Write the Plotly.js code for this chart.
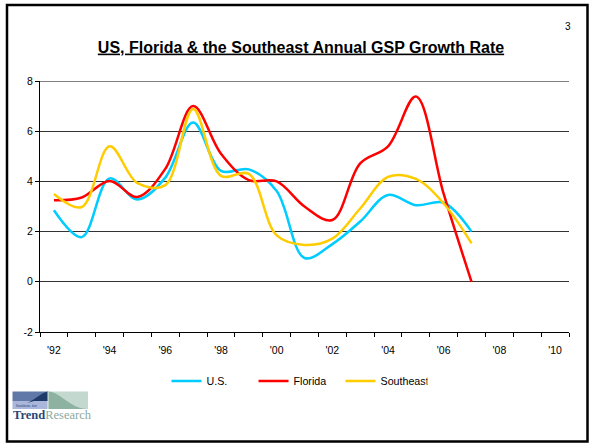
<!DOCTYPE html>
<html>
<head>
<meta charset="utf-8">
<script src="https://cdn.plot.ly/plotly-3.0.1.min.js"></script>
<style>
html,body{margin:0;padding:0;background:#fff;}
#chart{width:592px;height:445px;}
</style>
</head>
<body>
<div id="chart"></div>
<script>
// ---- data ----
const years = [1992,1993,1994,1995,1996,1997,1998,1999,2000,2001,2002,2003,2004,2005,2006,2007];
const usGrowth        = [2.85,1.78,4.12,3.28,4.15,6.35,4.42,4.48,3.62,0.95,1.50,2.40,3.46,3.05,3.15,2.00];
const floridaGrowth   = [3.25,3.36,4.02,3.38,4.50,7.00,5.10,4.05,4.00,3.00,2.46,4.72,5.40,7.38,3.50,0.00];
const southeastGrowth = [3.50,2.98,5.40,3.93,3.85,6.88,4.22,4.30,1.85,1.47,1.72,2.92,4.18,4.10,3.12,1.53];
const tickYears  = [1992,1994,1996,1998,2000,2002,2004,2006,2008,2010];
const tickLabels = ["'92","'94","'96","'98","'00","'02","'04","'06","'08","'10"];
const yTickVals   = [-2,0,2,4,6,8];
const yTickLabels = ['-2','0','2','4','6','8'];
const seriesNames  = ['U.S.','Florida','Southeast'];
const seriesValues = [usGrowth, floridaGrowth, southeastGrowth];
const seriesColors = ['#00CCFF','#FF0000','#FFCC00'];

// ---- geometry helpers ----
const W = 592, H = 445;
const M = {l:40, r:23, t:81, b:113};
const PW = W - M.l - M.r, PH = H - M.t - M.b;
const px = x => (x - M.l) / PW;
const py = y => (H - M.b - y) / PH;
const P = (x, y) => px(x).toFixed(5) + ',' + py(y).toFixed(5);

const traces = seriesNames.map((name, i) => ({
  type: 'scatter',
  mode: 'lines',
  name: name,
  x: years,
  y: seriesValues[i],
  line: {color: seriesColors[i], width: 2.5, shape: 'spline', smoothing: 1},
  hoverinfo: 'x+y+name'
}));

const shapes = [
  // page frame
  {type:'rect', xref:'paper', yref:'paper', x0:px(7), x1:px(587.5), y0:py(441.5), y1:py(5),
   line:{color:'#000', width:2.5}, fillcolor:'rgba(0,0,0,0)'},
  // top border of plot area (at the top of the value range)
  {type:'line', xref:'paper', yref:'y', x0:0, x1:1, y0:yTickVals[yTickVals.length-1], y1:yTickVals[yTickVals.length-1],
   line:{color:'#000', width:1}, layer:'below'},
  // logo blocks
  {type:'rect', xref:'paper', yref:'paper', x0:px(12.5), x1:px(48), y0:py(401), y1:py(391.5),
   line:{width:0}, fillcolor:'#5f78a8'},
  {type:'rect', xref:'paper', yref:'paper', x0:px(12.5), x1:px(48), y0:py(409), y1:py(401),
   line:{width:0}, fillcolor:'#aab6da'},
  {type:'path', xref:'paper', yref:'paper',
   path:'M' + P(27,403) + ' C' + P(36,399) + ' ' + P(41,393) + ' ' + P(48,391.5) + ' L' + P(48,401) + ' L' + P(34,401) + ' Z',
   line:{width:0}, fillcolor:'#1f3a68'},
  {type:'rect', xref:'paper', yref:'paper', x0:px(48), x1:px(88), y0:py(409), y1:py(391.5),
   line:{width:0}, fillcolor:'#c3d8cf'},
  {type:'path', xref:'paper', yref:'paper',
   path:'M' + P(48,391.5) + ' C' + P(60,391.5) + ' ' + P(68,407) + ' ' + P(86,409) + ' L' + P(48,409) + ' Z',
   line:{width:0}, fillcolor:'#8db2a2'},
  {type:'line', xref:'paper', yref:'paper', x0:px(48), x1:px(48), y0:py(409), y1:py(391.5),
   line:{color:'#ffffff', width:0.8}}
];

const annotations = [
  {text:'3', xref:'paper', yref:'paper', x:px(568), y:py(27), xanchor:'center', yanchor:'middle',
   showarrow:false, font:{size:10, color:'#000'}},
  {text:'Institute for', xref:'paper', yref:'paper', x:px(14), y:py(405), xanchor:'left', yanchor:'middle',
   showarrow:false, font:{size:4.5, color:'#2a4675', family:'Liberation Serif, serif'}},
  {text:'<b><span style="color:#2a4675">Trend</span></b><span style="color:#8da99d">Research</span>',
   xref:'paper', yref:'paper', x:px(10.5), y:py(415), xanchor:'left', yanchor:'middle',
   showarrow:false, font:{size:12.5, family:'Liberation Serif, serif'}}
];

const layout = {
  width: W, height: H,
  margin: M,
  paper_bgcolor: '#fff', plot_bgcolor: '#fff',
  font: {family: 'Liberation Sans, Arial, sans-serif', color: '#000', size: 10.5},
  title: {
    text: '<b><u>US, Florida & the Southeast Annual GSP Growth Rate</u></b>',
    font: {size: 16, color: '#000', family: 'Liberation Sans, Arial, sans-serif'},
    xref: 'container', yref: 'container', x: 301/W, y: 1 - 47/H,
    xanchor: 'center', yanchor: 'middle'
  },
  xaxis: {
    range: [1991.5, 2010.5],
    tickmode: 'array', tickvals: tickYears, ticktext: tickLabels,
    ticks: '', showline: true, linecolor: '#000', linewidth: 1,
    showgrid: false, zeroline: false,
    tickfont: {size: 10.5},
    ticklabelstandoff: 8,
    minor: {tickmode: 'linear', tick0: 1991.5, dtick: 1, ticks: 'outside', ticklen: 4,
            tickcolor: '#000', tickwidth: 1, showgrid: false},
    fixedrange: true
  },
  yaxis: {
    range: [-2, 8], tickmode: 'array', tickvals: yTickVals, ticktext: yTickLabels,
    ticks: 'outside', ticklen: 4, tickcolor: '#000', tickwidth: 1,
    showline: true, linecolor: '#000', linewidth: 1,
    showgrid: true, gridcolor: '#333', gridwidth: 1, zeroline: false,
    tickfont: {size: 10.5},
    fixedrange: true
  },
  showlegend: true,
  legend: {
    orientation: 'h', x: px(166.5), xanchor: 'left', y: py(381), yanchor: 'middle',
    font: {size: 10.7, color: '#000'}, bgcolor: 'rgba(0,0,0,0)', borderwidth: 0,
    entrywidth: 42, entrywidthmode: 'pixels', traceorder: 'normal'
  },
  shapes: shapes,
  annotations: annotations
};

Plotly.newPlot('chart', traces, layout, {displayModeBar: false});
</script>
</body>
</html>
